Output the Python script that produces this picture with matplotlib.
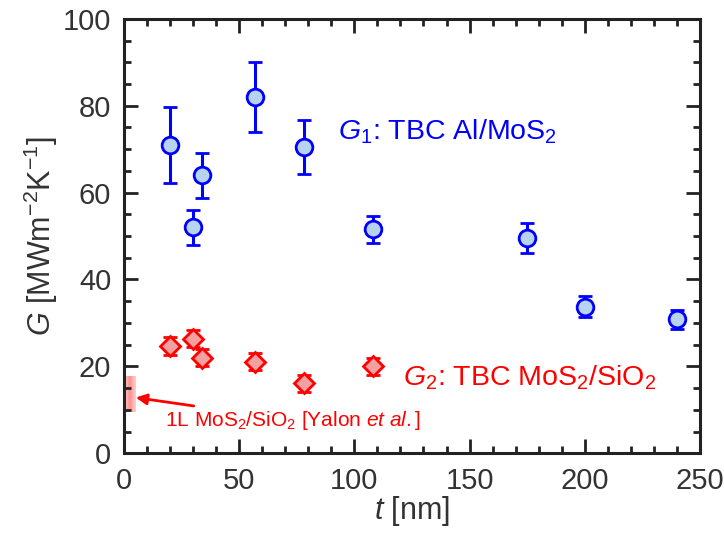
import numpy as np
import matplotlib.pyplot as plt
from matplotlib.ticker import MultipleLocator

plt.rcParams['font.family'] = ['Liberation Sans', 'DejaVu Sans']
plt.rcParams['mathtext.fontset'] = 'custom'
plt.rcParams['mathtext.rm'] = 'Liberation Sans'
plt.rcParams['mathtext.it'] = 'Liberation Sans:italic'

# G1: TBC Al/MoS2
t1 = [20, 30, 34, 57, 78, 108, 175, 200, 240]
G1 = [71.0, 52.0, 64.0, 82.0, 70.5, 51.5, 49.5, 33.7, 30.8]
G1_err = [8.7, 4.0, 5.2, 8.0, 6.2, 3.2, 3.5, 2.4, 2.2]

# G2: TBC MoS2/SiO2
t2 = [20, 30, 34, 57, 78, 108]
G2 = [24.7, 26.4, 22.0, 21.1, 16.1, 20.0]
G2_err = [2.0, 2.0, 2.0, 2.0, 2.0, 2.0]

# 1L MoS2/SiO2 range (Yalon et al.)
yalon_t = [0.8, 5.0]
yalon_G = [9.5, 17.7]

fig = plt.figure(figsize=(7.24, 5.37), dpi=100)
ax = fig.add_axes([0.171, 0.156, 0.796, 0.809])

# shaded band with a soft horizontal gradient
grad = np.linspace(0, 1, 50)
alpha = 0.3 + 0.35 * np.exp(-((grad - 0.4) / 0.35) ** 2)
rgba = np.zeros((1, 50, 4))
rgba[..., 0] = 1.0
rgba[..., 1] = 0.35
rgba[..., 2] = 0.35
rgba[..., 3] = alpha
ax.imshow(rgba, extent=[yalon_t[0], yalon_t[1], yalon_G[0], yalon_G[1]],
          aspect='auto', zorder=1, interpolation='bicubic')

ax.errorbar(t1, G1, yerr=G1_err, fmt='o', color='#0000ff', mfc='#b8d3f0',
            mec='#0000ff', ms=12, mew=2, elinewidth=2.2, capsize=5, capthick=2.2,
            zorder=3)
ax.errorbar(t2, G2, yerr=G2_err, fmt='D', color='#ff0000', mfc='#f5a0a0',
            mec='#ff0000', ms=10, mew=2, elinewidth=2.2, capsize=5, capthick=2.2,
            zorder=3)

ax.text(93, 74, r'$G_1$: TBC Al/MoS$_2$', color='#0000ff', fontsize=20.5,
        va='center', ha='left')
ax.text(121, 17.3, r'$G_2$: TBC MoS$_2$/SiO$_2$', color='#ff0000', fontsize=20.5,
        va='center', ha='left')
ax.annotate(r'1L MoS$_2$/SiO$_2$ [Yalon $et\ al.$]', xy=(5.2, 12.8),
            xytext=(18, 7.6), color='#ff0000', fontsize=15, va='center',
            ha='left',
            arrowprops=dict(arrowstyle='-|>', color='#ff0000', lw=2,
                            mutation_scale=16, shrinkA=0, shrinkB=0))

ax.set_xlim(0, 250)
ax.set_ylim(0, 100)
ax.xaxis.set_major_locator(MultipleLocator(50))
ax.xaxis.set_minor_locator(MultipleLocator(10))
ax.yaxis.set_major_locator(MultipleLocator(20))
ax.yaxis.set_minor_locator(MultipleLocator(5))
ax.tick_params(which='both', direction='in', top=True, right=True,
               color='#222222', labelsize=21, labelcolor='#333333')
ax.tick_params(which='major', length=10, width=2)
ax.tick_params(which='minor', length=5, width=2)
ax.tick_params(axis='y', which='major', pad=9)
ax.tick_params(axis='x', which='major', pad=10)
for s in ax.spines.values():
    s.set_linewidth(2.2)
    s.set_color('#222222')

ax.set_xlabel(r'$t$ [nm]', fontsize=22, color='#333333', labelpad=-1)
ax.set_ylabel(r'$G$ [MWm$^{\mathrm{-2}}$K$^{\mathrm{-1}}$]', fontsize=22,
              color='#333333', labelpad=2)

fig.savefig('out.png', dpi=100)
